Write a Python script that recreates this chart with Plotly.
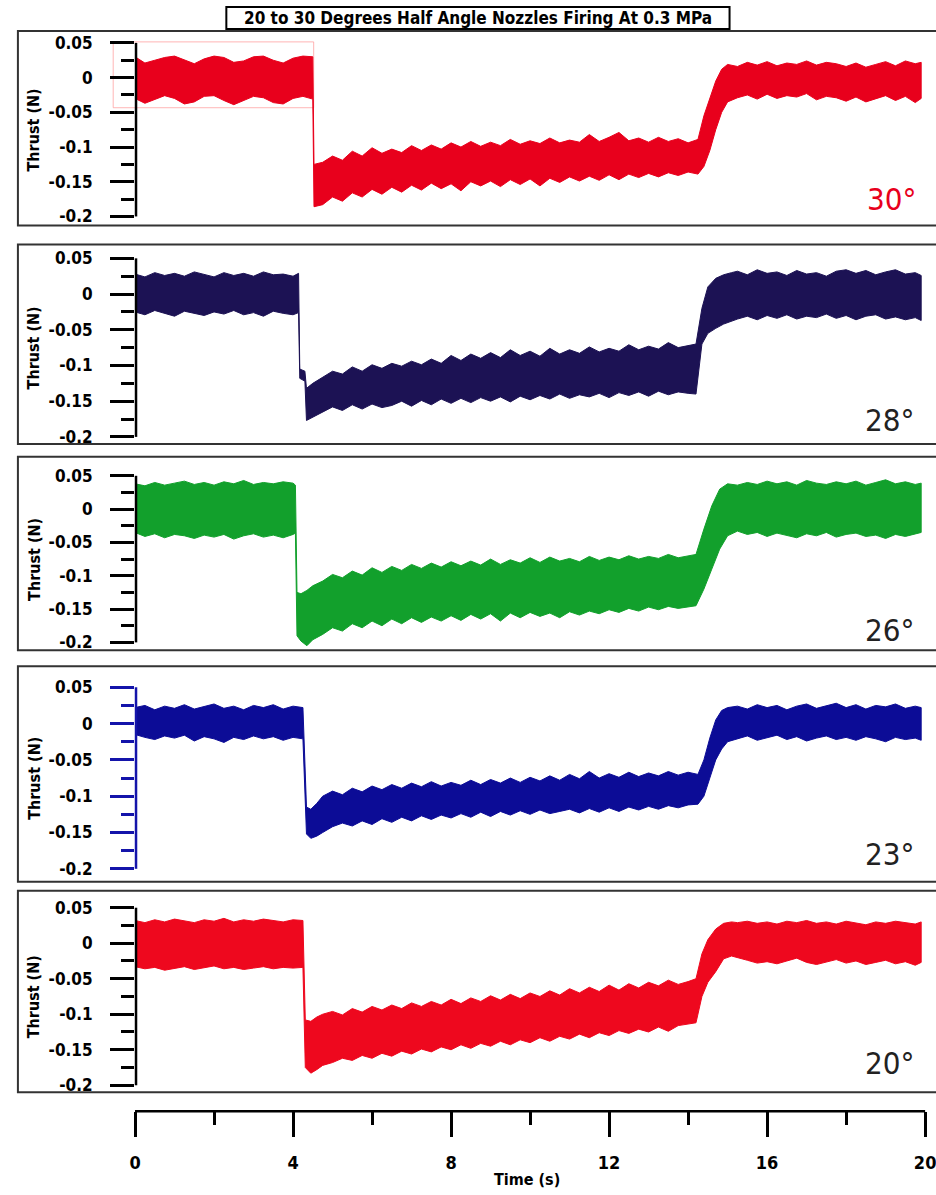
import plotly.graph_objects as go

# ---------------- data ----------------
time_ticks = [0, 4, 8, 12, 16, 20]
time_tick_text = ["0", "4", "8", "12", "16", "20"]
minor_time_ticks = [2, 6, 10, 14, 18]
thrust_ticks = [0.05, 0, -0.05, -0.1, -0.15, -0.2]
thrust_tick_text = ["0.05", "0", "-0.05", "-0.1", "-0.15", "-0.2"]
minor_thrust_ticks = [0.025, -0.025, -0.075, -0.125, -0.175]
angle_labels = ["30°", "28°", "26°", "23°", "20°"]
title_text = "20 to 30 Degrees Half Angle Nozzles Firing At 0.3 MPa"

# 30 degrees: upper / lower envelope of the noisy thrust trace (N) vs time (s)
t_30 = [0.0, 0.25, 0.5, 0.75, 1.0, 1.25, 1.5, 1.75, 2.0, 2.25, 2.5, 2.75, 3.0, 3.25, 3.5, 3.75, 4.0, 4.25, 4.5,
        4.53,
        4.75, 5.0, 5.25, 5.5, 5.75, 6.0, 6.25, 6.5, 6.75, 7.0, 7.25, 7.5, 7.75, 8.0, 8.25, 8.5, 8.75, 9.0, 9.25, 9.5,
        9.75, 10.0, 10.25, 10.5, 10.75, 11.0, 11.25, 11.5, 11.75, 12.0, 12.25, 12.5, 12.75, 13.0, 13.25, 13.5, 13.75,
        14.0, 14.25,
        14.4, 14.55, 14.7, 14.85, 15.0,
        15.25, 15.5, 15.75, 16.0, 16.25, 16.5, 16.75, 17.0, 17.25, 17.5, 17.75, 18.0, 18.25, 18.5, 18.75, 19.0, 19.25,
        19.5, 19.75, 19.9]
hi_30 = [0.030, 0.021, 0.025, 0.029, 0.031, 0.026, 0.020, 0.027, 0.031, 0.029, 0.022, 0.024, 0.030, 0.031, 0.025,
         0.021, 0.028, 0.031, 0.030,
         -0.125,
         -0.122, -0.113, -0.119, -0.106, -0.113, -0.101, -0.109, -0.103, -0.108, -0.098, -0.105, -0.097, -0.103,
         -0.094, -0.100, -0.092, -0.099, -0.093, -0.098, -0.089, -0.096, -0.091, -0.095, -0.087, -0.094, -0.090,
         -0.093, -0.082, -0.092, -0.086, -0.079, -0.091, -0.087, -0.093, -0.086, -0.092, -0.088, -0.094, -0.089,
         -0.055, -0.030, -0.005, 0.012, 0.019,
         0.016, 0.022, 0.018, 0.023, 0.017, 0.021, 0.019, 0.024, 0.018, 0.022, 0.020, 0.016, 0.021, 0.015, 0.019,
         0.023, 0.017, 0.024, 0.020, 0.022]
lo_30 = [-0.030, -0.037, -0.031, -0.026, -0.030, -0.038, -0.035, -0.027, -0.026, -0.033, -0.039, -0.033, -0.027,
         -0.029, -0.036, -0.038, -0.030, -0.027, -0.031,
         -0.186,
         -0.183, -0.172, -0.178, -0.166, -0.172, -0.161, -0.168, -0.158, -0.165, -0.155, -0.162, -0.152, -0.160,
         -0.153, -0.163, -0.150, -0.156, -0.149, -0.157, -0.147, -0.154, -0.146, -0.156, -0.145, -0.151, -0.143,
         -0.149, -0.142, -0.148, -0.140, -0.147, -0.139, -0.144, -0.138, -0.143, -0.137, -0.141, -0.136, -0.139,
         -0.128, -0.105, -0.075, -0.050, -0.035,
         -0.029, -0.025, -0.031, -0.024, -0.030, -0.026, -0.028, -0.023, -0.032, -0.027, -0.029, -0.034, -0.028,
         -0.035, -0.030, -0.026, -0.033, -0.027, -0.036, -0.030]

# 28 degrees
t_28 = [0.0, 0.25, 0.5, 0.75, 1.0, 1.25, 1.5, 1.75, 2.0, 2.25, 2.5, 2.75, 3.0, 3.25, 3.5, 3.75, 4.0, 4.14,
        4.17, 4.3, 4.34,
        4.5, 4.75, 5.0, 5.25, 5.5, 5.75, 6.0, 6.25, 6.5, 6.75, 7.0, 7.25, 7.5, 7.75, 8.0, 8.25, 8.5, 8.75, 9.0, 9.25,
        9.5, 9.75, 10.0, 10.25, 10.5, 10.75, 11.0, 11.25, 11.5, 11.75, 12.0, 12.25, 12.5, 12.75, 13.0, 13.25, 13.5,
        13.75, 14.0,
        14.2, 14.35, 14.5, 14.7, 14.9, 15.1,
        15.25, 15.5, 15.75, 16.0, 16.25, 16.5, 16.75, 17.0, 17.25, 17.5, 17.75, 18.0, 18.25, 18.5, 18.75, 19.0, 19.25,
        19.5, 19.75, 19.9]
hi_28 = [0.028, 0.024, 0.030, 0.026, 0.029, 0.025, 0.031, 0.027, 0.024, 0.030, 0.026, 0.029, 0.025, 0.031, 0.027,
         0.028, 0.025, 0.029,
         -0.105, -0.108, -0.132,
         -0.125, -0.116, -0.108, -0.112, -0.102, -0.108, -0.099, -0.104, -0.097, -0.101, -0.094, -0.099, -0.091,
         -0.097, -0.086, -0.093, -0.084, -0.090, -0.082, -0.089, -0.078, -0.086, -0.080, -0.087, -0.076, -0.084,
         -0.078, -0.083, -0.074, -0.081, -0.076, -0.080, -0.071, -0.078, -0.073, -0.077, -0.068, -0.075, -0.072,
         -0.070, -0.020, 0.010, 0.022, 0.027, 0.030,
         0.032, 0.027, 0.034, 0.029, 0.031, 0.026, 0.033, 0.028, 0.030, 0.025, 0.032, 0.034, 0.029, 0.033, 0.027,
         0.031, 0.034, 0.028, 0.030, 0.026]
lo_28 = [-0.025, -0.029, -0.023, -0.027, -0.031, -0.024, -0.027, -0.030, -0.025, -0.028, -0.023, -0.029, -0.026,
         -0.031, -0.024, -0.027, -0.029, -0.026,
         -0.118, -0.122, -0.177,
         -0.172, -0.165, -0.158, -0.163, -0.155, -0.161, -0.154, -0.159, -0.156, -0.150, -0.157, -0.149, -0.155,
         -0.147, -0.153, -0.146, -0.152, -0.145, -0.150, -0.144, -0.151, -0.143, -0.148, -0.142, -0.147, -0.140,
         -0.146, -0.141, -0.144, -0.139, -0.145, -0.138, -0.142, -0.137, -0.143, -0.136, -0.141, -0.137, -0.139,
         -0.140, -0.070, -0.055, -0.048, -0.042, -0.038,
         -0.035, -0.031, -0.036, -0.030, -0.034, -0.029, -0.035, -0.031, -0.033, -0.028, -0.034, -0.030, -0.036,
         -0.031, -0.029, -0.035, -0.032, -0.036, -0.033, -0.037]

# 26 degrees
t_26 = [0.0, 0.25, 0.5, 0.75, 1.0, 1.25, 1.5, 1.75, 2.0, 2.25, 2.5, 2.75, 3.0, 3.25, 3.5, 3.75, 4.0, 4.06,
        4.1, 4.2, 4.35, 4.5,
        4.75, 5.0, 5.25, 5.5, 5.75, 6.0, 6.25, 6.5, 6.75, 7.0, 7.25, 7.5, 7.75, 8.0, 8.25, 8.5, 8.75, 9.0, 9.25, 9.5,
        9.75, 10.0, 10.25, 10.5, 10.75, 11.0, 11.25, 11.5, 11.75, 12.0, 12.25, 12.5, 12.75, 13.0, 13.25, 13.5, 13.75,
        14.0,
        14.2, 14.4, 14.6, 14.8, 15.0,
        15.25, 15.5, 15.75, 16.0, 16.25, 16.5, 16.75, 17.0, 17.25, 17.5, 17.75, 18.0, 18.25, 18.5, 18.75, 19.0, 19.25,
        19.5, 19.75, 19.9]
hi_26 = [0.038, 0.035, 0.040, 0.036, 0.039, 0.042, 0.037, 0.040, 0.036, 0.041, 0.038, 0.043, 0.037, 0.040, 0.038,
         0.041, 0.039, 0.036,
         -0.125, -0.127, -0.122, -0.115,
         -0.108, -0.098, -0.103, -0.093, -0.099, -0.088, -0.095, -0.086, -0.092, -0.083, -0.089, -0.081, -0.087,
         -0.079, -0.085, -0.078, -0.084, -0.075, -0.083, -0.076, -0.081, -0.073, -0.080, -0.072, -0.078, -0.074,
         -0.079, -0.071, -0.077, -0.072, -0.076, -0.070, -0.075, -0.071, -0.074, -0.068, -0.073, -0.070,
         -0.068, -0.030, 0.005, 0.030, 0.038,
         0.036, 0.040, 0.037, 0.042, 0.038, 0.041, 0.036, 0.043, 0.039, 0.037, 0.041, 0.038, 0.042, 0.036, 0.040,
         0.044, 0.038, 0.041, 0.037, 0.039]
lo_26 = [-0.035, -0.041, -0.037, -0.043, -0.038, -0.040, -0.044, -0.039, -0.042, -0.038, -0.045, -0.040, -0.037,
         -0.042, -0.039, -0.043, -0.038, -0.036,
         -0.190, -0.198, -0.205, -0.196,
         -0.188, -0.178, -0.183, -0.172, -0.178, -0.168, -0.175, -0.165, -0.172, -0.163, -0.170, -0.162, -0.168,
         -0.160, -0.167, -0.158, -0.165, -0.157, -0.168, -0.156, -0.163, -0.155, -0.161, -0.156, -0.163, -0.154,
         -0.159, -0.153, -0.157, -0.151, -0.155, -0.149, -0.153, -0.147, -0.151, -0.146, -0.149, -0.147,
         -0.145, -0.120, -0.090, -0.060, -0.040,
         -0.033, -0.038, -0.035, -0.041, -0.036, -0.039, -0.043, -0.037, -0.040, -0.035, -0.042, -0.038, -0.036,
         -0.041, -0.039, -0.044, -0.038, -0.041, -0.037, -0.035]

# 23 degrees
t_23 = [0.0, 0.25, 0.5, 0.75, 1.0, 1.25, 1.5, 1.75, 2.0, 2.25, 2.5, 2.75, 3.0, 3.25, 3.5, 3.75, 4.0, 4.25,
        4.34, 4.45, 4.6, 4.75,
        5.0, 5.25, 5.5, 5.75, 6.0, 6.25, 6.5, 6.75, 7.0, 7.25, 7.5, 7.75, 8.0, 8.25, 8.5, 8.75, 9.0, 9.25, 9.5, 9.75,
        10.0, 10.25, 10.5, 10.75, 11.0, 11.25, 11.5, 11.75, 12.0, 12.25, 12.5, 12.75, 13.0, 13.25, 13.5, 13.75, 14.0,
        14.25,
        14.4, 14.55, 14.7, 14.85, 15.0,
        15.25, 15.5, 15.75, 16.0, 16.25, 16.5, 16.75, 17.0, 17.25, 17.5, 17.75, 18.0, 18.25, 18.5, 18.75, 19.0, 19.25,
        19.5, 19.75, 19.9]
hi_23 = [0.022, 0.025, 0.019, 0.024, 0.021, 0.026, 0.020, 0.023, 0.027, 0.021, 0.024, 0.019, 0.025, 0.022, 0.026,
         0.020, 0.024, 0.022,
         -0.115, -0.118, -0.110, -0.100,
         -0.093, -0.098, -0.089, -0.094, -0.086, -0.091, -0.084, -0.089, -0.082, -0.087, -0.080, -0.086, -0.081,
         -0.085, -0.078, -0.084, -0.077, -0.082, -0.075, -0.081, -0.074, -0.079, -0.072, -0.078, -0.070, -0.076,
         -0.066, -0.075, -0.069, -0.074, -0.067, -0.073, -0.068, -0.072, -0.066, -0.071, -0.067, -0.070,
         -0.050, -0.020, 0.005, 0.018, 0.022,
         0.024, 0.020, 0.026, 0.022, 0.025, 0.019, 0.024, 0.027, 0.021, 0.025, 0.028, 0.022, 0.026, 0.020, 0.025,
         0.023, 0.027, 0.021, 0.024, 0.022]
lo_23 = [-0.015, -0.019, -0.022, -0.017, -0.020, -0.016, -0.024, -0.018, -0.021, -0.026, -0.019, -0.022, -0.017,
         -0.021, -0.018, -0.023, -0.019, -0.021,
         -0.152, -0.158, -0.155, -0.150,
         -0.142, -0.137, -0.141, -0.134, -0.139, -0.131, -0.136, -0.129, -0.134, -0.127, -0.132, -0.126, -0.130,
         -0.124, -0.129, -0.122, -0.128, -0.121, -0.126, -0.120, -0.125, -0.119, -0.124, -0.121, -0.118, -0.123,
         -0.117, -0.122, -0.116, -0.121, -0.115, -0.119, -0.114, -0.118, -0.113, -0.116, -0.112, -0.111,
         -0.100, -0.075, -0.050, -0.035, -0.025,
         -0.021, -0.017, -0.023, -0.019, -0.016, -0.022, -0.018, -0.024, -0.020, -0.017, -0.022, -0.019, -0.023,
         -0.018, -0.021, -0.025, -0.019, -0.022, -0.020, -0.023]

# 20 degrees
t_20 = [0.0, 0.25, 0.5, 0.75, 1.0, 1.25, 1.5, 1.75, 2.0, 2.25, 2.5, 2.75, 3.0, 3.25, 3.5, 3.75, 4.0, 4.25,
        4.31, 4.45, 4.6, 4.75,
        5.0, 5.25, 5.5, 5.75, 6.0, 6.25, 6.5, 6.75, 7.0, 7.25, 7.5, 7.75, 8.0, 8.25, 8.5, 8.75, 9.0, 9.25, 9.5, 9.75,
        10.0, 10.25, 10.5, 10.75, 11.0, 11.25, 11.5, 11.75, 12.0, 12.25, 12.5, 12.75, 13.0, 13.25, 13.5, 13.75, 14.0,
        14.2, 14.35, 14.5, 14.7, 14.9, 15.1,
        15.25, 15.5, 15.75, 16.0, 16.25, 16.5, 16.75, 17.0, 17.25, 17.5, 17.75, 18.0, 18.25, 18.5, 18.75, 19.0, 19.25,
        19.5, 19.75, 19.9]
hi_20 = [0.032, 0.029, 0.033, 0.030, 0.034, 0.031, 0.029, 0.033, 0.031, 0.035, 0.030, 0.033, 0.031, 0.034, 0.032,
         0.030, 0.033, 0.032,
         -0.108, -0.110, -0.104, -0.100,
         -0.096, -0.101, -0.092, -0.097, -0.089, -0.094, -0.087, -0.092, -0.084, -0.089, -0.082, -0.087, -0.079,
         -0.085, -0.077, -0.082, -0.074, -0.080, -0.072, -0.078, -0.070, -0.075, -0.067, -0.073, -0.064, -0.070,
         -0.062, -0.068, -0.059, -0.066, -0.057, -0.063, -0.055, -0.060, -0.052, -0.058, -0.054,
         -0.050, -0.015, 0.005, 0.020, 0.028, 0.030,
         0.029, 0.031, 0.028, 0.030, 0.027, 0.031, 0.029, 0.032, 0.028, 0.030, 0.027, 0.031, 0.029, 0.026, 0.030,
         0.028, 0.031, 0.029, 0.027, 0.030]
lo_20 = [-0.033, -0.036, -0.034, -0.038, -0.035, -0.033, -0.037, -0.035, -0.032, -0.036, -0.034, -0.037, -0.035,
         -0.033, -0.036, -0.034, -0.035, -0.034,
         -0.175, -0.183, -0.178, -0.172,
         -0.168, -0.162, -0.165, -0.158, -0.162, -0.155, -0.159, -0.152, -0.156, -0.149, -0.153, -0.146, -0.150,
         -0.143, -0.148, -0.141, -0.145, -0.138, -0.143, -0.136, -0.140, -0.133, -0.138, -0.131, -0.135, -0.128,
         -0.133, -0.126, -0.130, -0.123, -0.127, -0.121, -0.125, -0.118, -0.124, -0.116, -0.114,
         -0.112, -0.075, -0.055, -0.040, -0.022, -0.018,
         -0.020, -0.024, -0.028, -0.026, -0.029, -0.025, -0.021, -0.027, -0.030, -0.026, -0.023, -0.028, -0.025,
         -0.030, -0.027, -0.024, -0.029, -0.026, -0.031, -0.027]

series = [(t_30, hi_30, lo_30), (t_28, hi_28, lo_28), (t_26, hi_26, lo_26),
          (t_23, hi_23, lo_23), (t_20, hi_20, lo_20)]

# ---------------- layout / style ----------------
W, H = 936, 1195
AX_LEFT_PX = 130
X_MAX = 20.25
# (box top, box bottom, pixel of 0.05 tick, pixel of -0.2 tick)
panel_px = [(31, 226, 43, 217), (245, 445, 259, 438), (458, 652, 477, 644),
            (668, 884, 689, 871), (893, 1095, 910, 1088)]
colors = ["#e8001c", "#1c1254", "#12a02c", "#0c0c96", "#ee081e"]
axis_colors = ["black", "black", "black", "#1414aa", "black"]
label_colors = ["#e8001c", "#222222", "#222222", "#222222", "#222222"]
label_px = [(892, 199), (890, 421), (890, 632), (890, 856), (890, 1066)]

COND = "Liberation Sans Narrow, Arial Narrow, DejaVu Sans Condensed, sans-serif"


def py(p):
    return 1 - p / H


def px(p):
    return p / W


fig = go.Figure()
shapes = []
annotations = []
layout = dict(width=W, height=H, margin=dict(l=0, r=0, t=0, b=0),
              paper_bgcolor="white", plot_bgcolor="white", showlegend=False)

for i, (t, hi, lo) in enumerate(series):
    n = i + 1
    xa = "x" if n == 1 else f"x{n}"
    ya = "y" if n == 1 else f"y{n}"
    box_top, box_bot, tk_top, tk_bot = panel_px[i]
    k = (tk_bot - tk_top) / 0.25
    y_hi = 0.05 + (tk_top - box_top) / k
    y_lo = -0.2 - (box_bot - tk_bot) / k

    fig.add_trace(go.Scatter(
        x=list(t) + list(t)[::-1], y=list(hi) + list(lo)[::-1],
        xaxis=xa, yaxis=ya, mode="lines", fill="toself",
        fillcolor=colors[i], line=dict(color=colors[i], width=1),
        hoverinfo="skip"))

    xkey = "xaxis" if n == 1 else f"xaxis{n}"
    ykey = "yaxis" if n == 1 else f"yaxis{n}"
    xdict = dict(domain=[px(AX_LEFT_PX), 1], range=[0, X_MAX], anchor=ya,
                 showgrid=False, zeroline=False, showline=False,
                 showticklabels=False, ticks="")
    if n == 5:
        xdict.update(anchor="free", position=py(1114), side="bottom",
                     showticklabels=True, ticks="outside", ticklen=25, tickwidth=2.5,
                     tickcolor="black", tickmode="array", tickvals=time_ticks,
                     ticktext=time_tick_text, ticklabelstandoff=10,
                     ticklabeloverflow="allow",
                     tickfont=dict(family=COND, size=18, color="black", weight="bold"),
                     minor=dict(tickvals=minor_time_ticks, ticks="outside", ticklen=13,
                                tickwidth=2.5, tickcolor="black"))
    layout[xkey] = xdict
    layout[ykey] = dict(domain=[py(box_bot), py(box_top)], range=[y_lo, y_hi], anchor=xa,
                        showgrid=False, zeroline=False, showline=False,
                        ticks="outside", ticklen=24, tickwidth=2.5, tickcolor=axis_colors[i],
                        tickmode="array", tickvals=thrust_ticks, ticktext=thrust_tick_text,
                        ticklabelstandoff=14,
                        tickfont=dict(family=COND, size=17, color="black", weight="bold"),
                        minor=dict(tickvals=minor_thrust_ticks, ticks="outside", ticklen=13,
                                   tickwidth=2.5, tickcolor=axis_colors[i]))

    # panel frame
    shapes.append(dict(type="rect", xref="paper", yref="paper", x0=px(12), x1=1.01,
                       y0=py(box_bot), y1=py(box_top), line=dict(color="#333333", width=2),
                       layer="above"))
    # vertical axis line (only across tick span)
    shapes.append(dict(type="line", xref="paper", yref="paper", x0=px(131), x1=px(131),
                       y0=py(tk_bot), y1=py(tk_top), line=dict(color=axis_colors[i], width=2.5),
                       layer="above"))
    # axis title
    annotations.append(dict(text="Thrust (N)", xref="paper", yref="paper", x=px(28),
                            y=py((tk_top + tk_bot) / 2), showarrow=False, textangle=-90,
                            font=dict(family=COND, size=16, color="black", weight="bold"),
                            xanchor="center", yanchor="middle"))
    # angle label
    lx, ly = label_px[i]
    annotations.append(dict(text=angle_labels[i], xref="paper", yref="paper", x=px(lx), y=py(ly),
                            showarrow=False, xanchor="center", yanchor="middle",
                            font=dict(family=COND, size=31, color=label_colors[i])))

# faint selection rectangle in first panel
shapes.append(dict(type="rect", xref="paper", yref="paper", x0=px(108), x1=px(310),
                   y0=py(108), y1=py(42), line=dict(color="rgba(255,150,150,0.7)", width=1),
                   layer="below"))

# bottom time axis line
shapes.append(dict(type="line", xref="paper", yref="paper",
                   x0=px(AX_LEFT_PX), x1=px(AX_LEFT_PX + 20 * (W - AX_LEFT_PX) / X_MAX),
                   y0=py(1114), y1=py(1114), line=dict(color="black", width=2.5)))

# title box
shapes.append(dict(type="rect", xref="paper", yref="paper", x0=px(222), x1=px(729),
                   y0=py(29), y1=py(7), line=dict(color="black", width=2), fillcolor="white",
                   layer="above"))
annotations.append(dict(text=title_text, xref="paper", yref="paper", x=px(475.5), y=py(18),
                        showarrow=False, xanchor="center", yanchor="middle",
                        font=dict(family=COND, size=17, color="black", weight="bold")))
annotations.append(dict(text="Time (s)", xref="paper", yref="paper", x=px(525), y=py(1182),
                        showarrow=False, xanchor="center", yanchor="middle",
                        font=dict(family=COND, size=16, color="black", weight="bold")))

layout["shapes"] = shapes
layout["annotations"] = annotations
fig.update_layout(**layout)
fig.write_html("out.html")
